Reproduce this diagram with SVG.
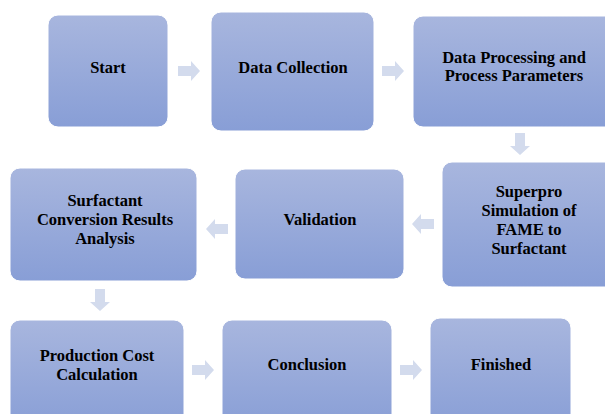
<svg xmlns="http://www.w3.org/2000/svg" width="605" height="414" viewBox="0 0 605 414">
<defs>
<linearGradient id="g" x1="0" y1="0" x2="0" y2="1">
<stop offset="0" stop-color="#a8b6de"/>
<stop offset="1" stop-color="#889ed6"/>
</linearGradient>
<path id="ar" d="M0,-5 H13 V-10 L22,0 L13,10 V5 H0 Z"/>
</defs>
<style>
.n rect{fill:url(#g);stroke:#ffffff;stroke-width:1}
.n text{font-family:"Liberation Serif","Times New Roman",serif;font-weight:bold;font-size:16.5px;fill:#000;text-anchor:middle}
.c use{fill:#d3dbed}
</style>
<rect width="605" height="414" fill="#ffffff"/>
<g id="n1" class="n"><rect x="48" y="15" width="120" height="112" rx="10"/><text x="108" y="73">Start</text></g>
<g id="n2" class="n"><rect x="211" y="12" width="163" height="119" rx="10"/><text x="293" y="73">Data Collection</text></g>
<g id="n3" class="n"><rect x="413" y="16" width="210" height="111" rx="10"/><text x="514" y="63">Data Processing and</text><text x="514" y="81">Process Parameters</text></g>
<g id="n4" class="n"><rect x="442" y="162" width="180" height="125" rx="10"/><text x="529" y="197">Superpro</text><text x="529" y="216">Simulation of</text><text x="529" y="235">FAME to</text><text x="529" y="254">Surfactant</text></g>
<g id="n5" class="n"><rect x="235" y="169" width="169" height="110" rx="10"/><text x="320" y="225">Validation</text></g>
<g id="n6" class="n"><rect x="10" y="168" width="187" height="113" rx="10"/><text x="105" y="206">Surfactant</text><text x="105" y="225">Conversion Results</text><text x="105" y="244">Analysis</text></g>
<g id="n7" class="n"><rect x="10" y="320" width="174" height="110" rx="10"/><text x="97" y="361">Production Cost</text><text x="97" y="380">Calculation</text></g>
<g id="n8" class="n"><rect x="222" y="320" width="170" height="110" rx="10"/><text x="307" y="370">Conclusion</text></g>
<g id="n9" class="n"><rect x="430" y="318" width="141" height="112" rx="10"/><text x="501" y="370">Finished</text></g>
<g id="connectors" class="c">
<use href="#ar" transform="translate(178,71)"/>
<use href="#ar" transform="translate(382,71)"/>
<use href="#ar" transform="translate(520,133) rotate(90)"/>
<use href="#ar" transform="translate(434,224) rotate(180)"/>
<use href="#ar" transform="translate(228,229) rotate(180)"/>
<use href="#ar" transform="translate(100,289) rotate(90)"/>
<use href="#ar" transform="translate(192,370)"/>
<use href="#ar" transform="translate(400,370)"/>
</g>
</svg>
